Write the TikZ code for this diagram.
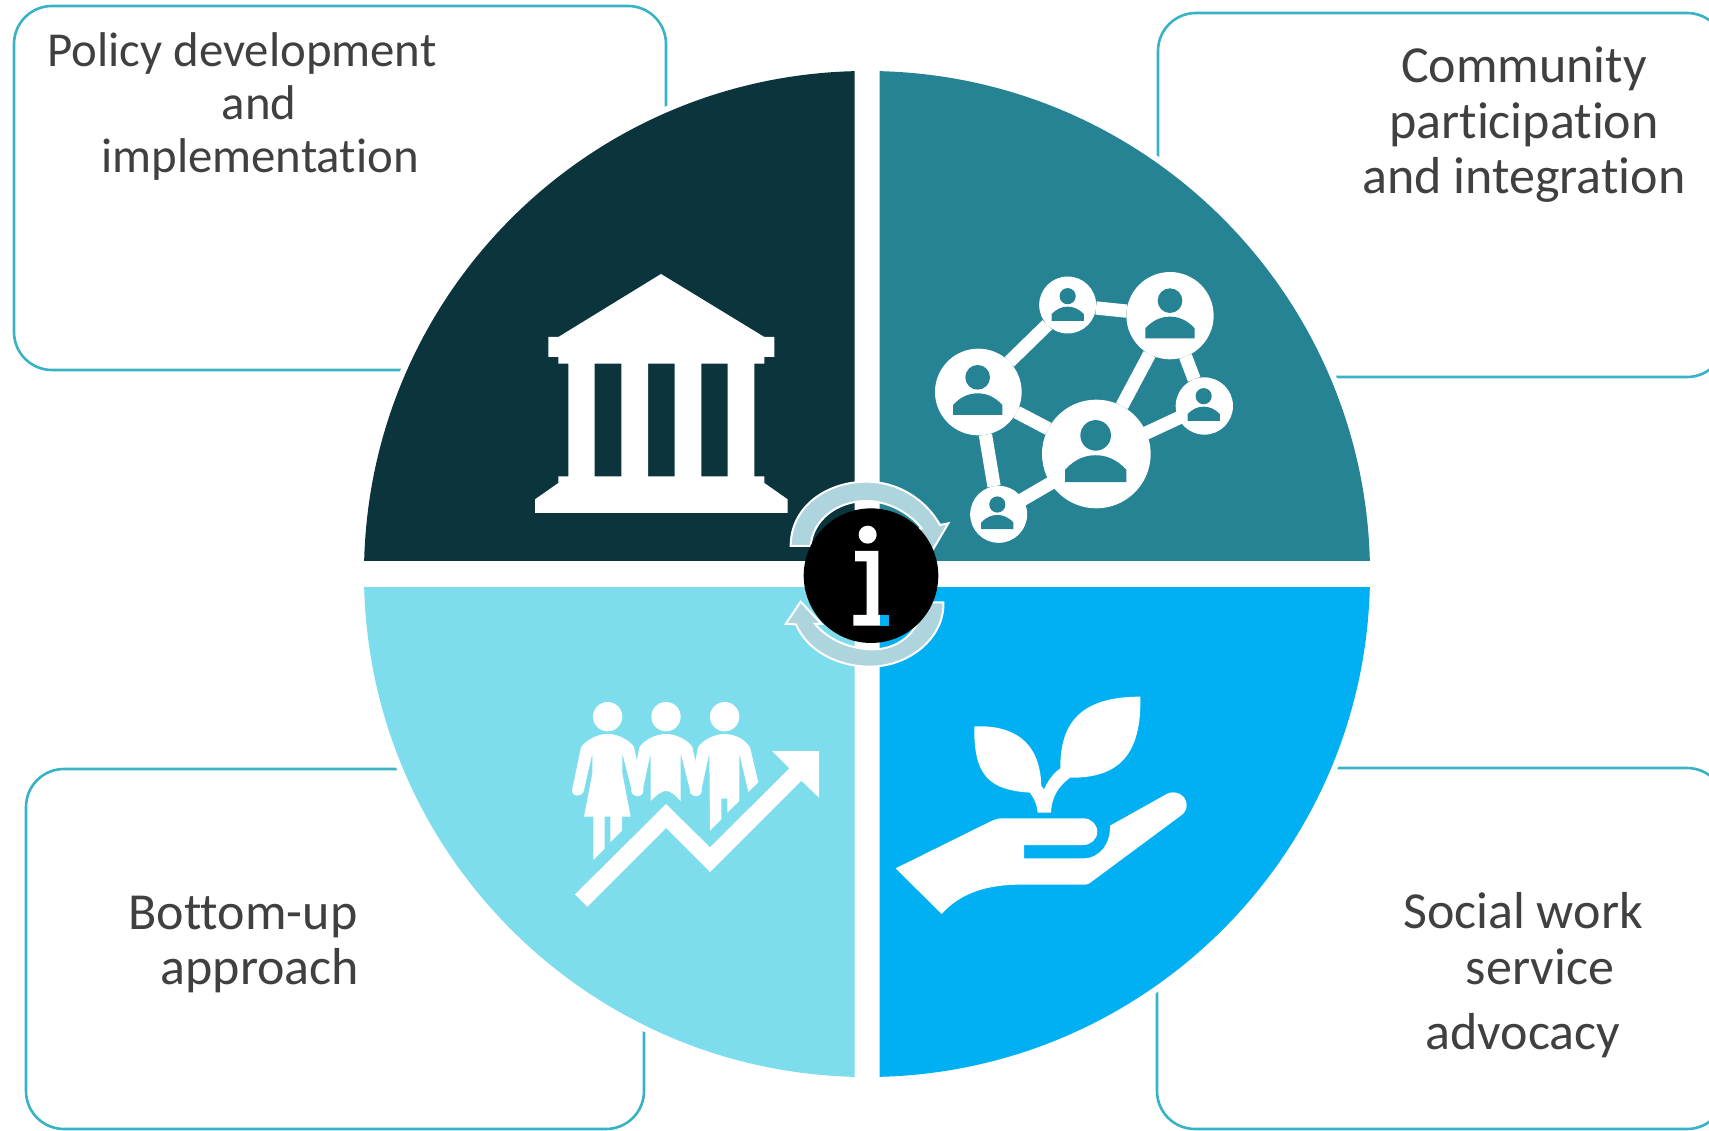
\documentclass[tikz,border=0pt]{standalone}
\usepackage{fontspec}
\setmainfont[Ligatures=NoCommon]{Carlito}
\definecolor{qdark}{HTML}{0B343C}
\definecolor{qteal}{HTML}{258393}
\definecolor{qlight}{HTML}{7DDDEC}
\definecolor{qblue}{HTML}{00B0F2}
\definecolor{boxcol}{HTML}{38B3C6}
\definecolor{txtcol}{HTML}{404040}
\definecolor{arrcol}{HTML}{AED4DE}
\tikzset{
  labelbox/.style={draw=boxcol,line width=2.6pt,rounded corners=38pt,fill=white},
  lbl/.style={anchor=base,inner sep=0pt,text=txtcol,font=\fontsize{52}{54}\selectfont},
  lblsmall/.style={anchor=base,inner sep=0pt,text=txtcol,font=\fontsize{48.8}{50}\selectfont},
  netnode/.style={circle,fill=white,inner sep=0pt,outer sep=0pt},
  netedge/.style={draw=white,line width=13.3pt},
  turnarrow/.style={fill=arrcol,draw=white,line width=2pt,line join=miter},
}
\newcommand{\quadrant}[3]{\begin{scope}\clip #1 rectangle #2;\fill[#3] (867,574) circle (503);\end{scope}}
\newcommand{\netperson}[3]{\begin{scope}[shift={(#1,#2)},scale=#3]
  \fill[qteal] (0,-45) circle (37);
  \fill[qteal] (-74,68) -- (-74,38) .. controls (-50,12) and (-25,3) .. (0,3) .. controls (25,3) and (50,12) .. (74,38) -- (74,68) -- cycle;
\end{scope}}
\begin{document}
\begin{tikzpicture}[x=1pt,y=-1pt]
\clip (0,0) rectangle (1709,1131);
\fill[white] (0,0) rectangle (1709,1131);
% label boxes
\draw[labelbox] (14,6) rectangle (666,370);
\draw[labelbox] (1158,13) rectangle (1725,377);
\draw[labelbox] (26,769) rectangle (644,1129);
\draw[labelbox] (1157,768) rectangle (1725,1129);
% white ring round the disc
\fill[white] (867,574) circle (509);
% quadrants
\quadrant{(854.5,560.5)}{(300,0)}{qdark}
\quadrant{(879.5,560.5)}{(1400,0)}{qteal}
\quadrant{(854.5,587)}{(300,1131)}{qlight}
\quadrant{(879.5,587)}{(1400,1131)}{qblue}
% temple
\begin{scope}[shift={(520,260)},scale=1/3]
\fill[white,even odd rule] (423,42) -- (733,231) -- (763,231) -- (763,291) -- (733,291) -- (733,311) -- (703,311) -- (703,649) -- (733,649) -- (733,669) -- (803,718) -- (803,759) -- (45,759) -- (45,718) -- (115,669) -- (115,649) -- (145,649) -- (145,311) -- (115,311) -- (115,291) -- (85,291) -- (85,231) -- (115,231) -- cycle
 (224,311) rectangle (304,649) (384,311) rectangle (464,649) (544,311) rectangle (623,649);
\end{scope}
% network
\begin{scope}[shift={(920,260)},scale=1/3]
\node[netnode,minimum size=86.7pt] (na) at (175,396) {};
\node[netnode,minimum size=57pt] (nb) at (443,135) {};
\node[netnode,minimum size=87.3pt] (nc) at (750,167) {};
\node[netnode,minimum size=108.7pt] (nd) at (529,582) {};
\node[netnode,minimum size=57.3pt] (ne) at (853,438) {};
\node[netnode,minimum size=57pt] (nf) at (236,763) {};
\draw[netedge] (na) -- (nb);
\draw[netedge] (nb) -- (nc);
\draw[netedge] (nc) -- (nd);
\draw[netedge] (nc) -- (ne);
\draw[netedge] ([yshift=-6.7pt]nd.center) -- (ne.center);
\draw[netedge] (na) -- (nd);
\draw[netedge] (na) -- (nf);
\draw[netedge] ([yshift=-8pt]nd.center) -- ([yshift=2.7pt]nf.center);
\netperson{173}{397}{1}
\netperson{750}{167}{1}
\netperson{527}{582}{1.24}
\netperson{443}{138}{0.655}
\netperson{851}{438}{0.655}
\netperson{232}{763}{0.655}
\end{scope}
% people with rising arrow
\begin{scope}[shift={(560,690)},scale=1/3]
\fill[white] (143,80) circle (44) (318,80) circle (44) (494,80) circle (44);
\fill[white] (68,165) .. controls (90,142) and (120,132) .. (143,132) .. controls (166,132) and (196,142) .. (218,165) -- (222,172) -- (250,297) .. controls (254,325) and (215,325) .. (215,300) -- (187,190) -- (187,250) -- (212,380) -- (186,380) -- (186,422) -- (151,457) -- (151,380) -- (134,380) -- (134,476) -- (100,510) -- (100,380) -- (72,380) -- (97,250) -- (97,190) -- (72,300) .. controls (68,325) and (30,320) .. (37,297) -- (63,172) -- cycle;
\fill[white] (243,165) .. controls (265,142) and (295,132) .. (318,132) .. controls (341,132) and (371,142) .. (393,165) -- (397,172) -- (425,297) .. controls (429,325) and (390,325) .. (390,300) -- (362,190) -- (362,333) .. controls (340,310) and (330,303) .. (318,303) .. controls (306,303) and (296,310) .. (272,333) -- (272,190) -- (248,300) .. controls (244,325) and (208,320) .. (215,297) -- (238,172) -- cycle;
\fill[white] (419,165) .. controls (441,142) and (471,132) .. (494,132) .. controls (517,132) and (547,142) .. (565,165) -- (570,172) -- (595,277) -- (565,306) -- (538,190) -- (538,333) -- (502,368) -- (502,326) -- (484,326) -- (484,388) -- (450,422) -- (448,190) -- (424,300) .. controls (420,325) and (384,320) .. (390,297) -- (414,172) -- cycle;
\fill[white] (45,613) -- (318,342) -- (450,472) -- (688,235) -- (636,183) -- (777,183) -- (777,323) -- (724,272) -- (450,546) -- (318,414) -- (82,650) -- cycle;
\end{scope}
% hand and plant
\begin{scope}[shift={(880,680)},scale=1/3]
\fill[white] (283,139) .. controls (390,135) and (480,175) .. (484,318) -- (492,328) .. controls (505,300) and (520,280) .. (541,265) .. controls (540,130) and (600,50) .. (781,50) .. controls (785,220) and (720,295) .. (570,293) .. controls (535,320) and (515,350) .. (513,398) -- (473,398) .. controls (472,375) and (462,355) .. (450,338) .. controls (330,330) and (280,290) .. (283,139) -- cycle;
\fill[white] (47,565) -- (330,425) .. controls (345,418) and (355,415) .. (365,415) -- (610,415) .. controls (633,415) and (652,433) .. (652,455) .. controls (652,477) and (633,495) .. (610,495) -- (432,495) -- (432,535) -- (610,535) .. controls (660,535) and (692,490) .. (690,437) -- (860,342) .. controls (885,328) and (920,345) .. (920,375) .. controls (920,390) and (912,400) .. (905,405) -- (635,605) .. controls (628,611) and (622,614) .. (615,614) -- (420,614) .. controls (320,614) and (240,640) .. (185,702) -- cycle;
\end{scope}
% centre
\begin{scope}[shift={(770,470)},scale=1/3]
\path[turnarrow] (62,228) .. controls (62,110) and (170,35) .. (290,35) .. controls (380,35) and (465,85) .. (510,165) -- (535,160) -- (488,240) -- (440,178) -- (455,175) .. controls (415,125) and (350,93) .. (290,93) .. controls (200,93) and (128,150) .. (122,228) -- cycle;
\path[turnarrow] (520,397) .. controls (525,500) and (420,590) .. (300,590) .. controls (200,590) and (110,540) .. (78,463) -- (47,462) -- (92,395) -- (155,462) -- (135,462) .. controls (180,515) and (250,538) .. (310,538) .. controls (390,538) and (455,480) .. (458,397) -- cycle;
\node[circle,fill=black,inner sep=0pt,minimum size=134.6pt] (infodisc) at (303,317) {};
\fill[white] (293,194) circle (27);
\fill[white] (255,243) -- (325,243) -- (325,435) -- (330,435) -- (330,467) -- (250,467) -- (250,435) -- (290,435) -- (290,274) -- (255,274) -- cycle;
\fill[qblue] (330,435) rectangle (357,467);
\end{scope}
% labels
\node[lblsmall] (t1a) at (242,67) {Policy development};
\node[lblsmall] (t1b) at (259,120) {and};
\node[lblsmall] (t1c) at (260,173) {implementation};
\node[lbl] (t2a) at (1524,83) {Community};
\node[lbl] (t2b) at (1524,139) {participation};
\node[lbl] (t2c) at (1524,194) {and integration};
\node[lbl] (t3a) at (243,929) {Bottom-up};
\node[lbl] (t3b) at (260,984) {approach};
\node[lbl] (t4a) at (1523,928) {Social work};
\node[lbl] (t4b) at (1540,984) {service};
\node[lbl] (t4c) at (1523,1049) {advocacy};
\end{tikzpicture}
\end{document}
